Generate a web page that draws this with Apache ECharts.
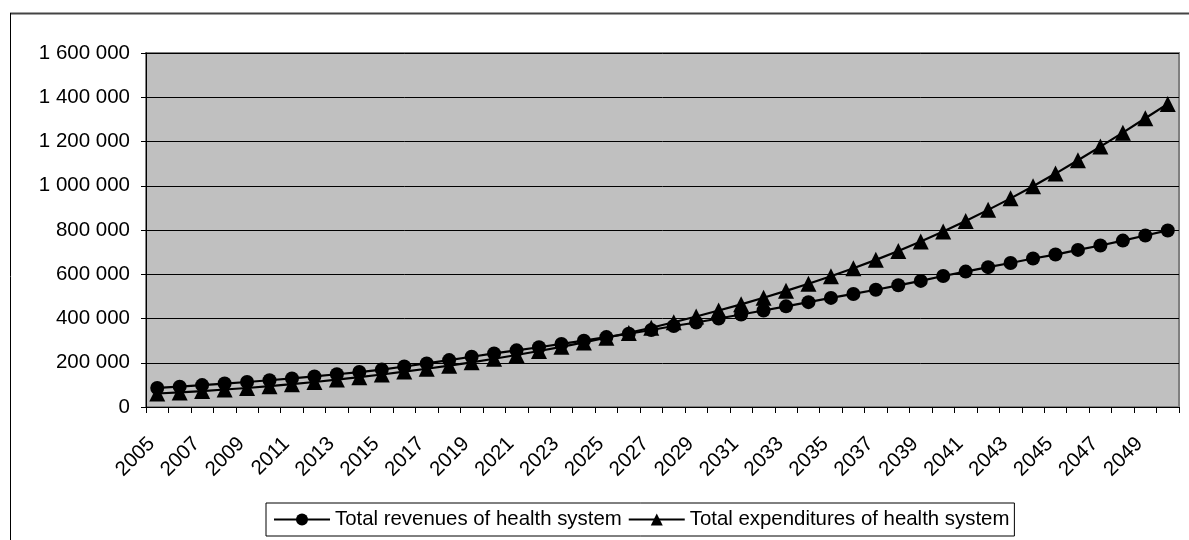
<!DOCTYPE html>
<html>
<head>
<meta charset="utf-8">
<script src="https://cdn.jsdelivr.net/npm/echarts@6/dist/echarts.min.js"></script>
<style>
html,body{margin:0;padding:0;background:#fff;}
#chart{width:1189px;height:540px;}
</style>
</head>
<body>
<div id="chart"></div>
<script>
const years = ["2005","2006","2007","2008","2009","2010","2011","2012","2013","2014",
  "2015","2016","2017","2018","2019","2020","2021","2022","2023","2024",
  "2025","2026","2027","2028","2029","2030","2031","2032","2033","2034",
  "2035","2036","2037","2038","2039","2040","2041","2042","2043","2044",
  "2045","2046","2047","2048","2049","2050"];

const revenues = [86000,92000,99000,106000,113000,121000,129000,138000,148000,158000,
  169000,183000,197000,212000,227000,242000,256000,270000,285000,300000,
  316000,331000,348000,366000,382000,400000,418000,436000,455000,474000,
  493000,511000,530000,550000,570000,592000,612000,632000,651000,671000,
  689000,710000,730000,752000,775000,798000];

const expenditures = [61000,66000,72000,79000,86000,94000,103000,113000,124000,135000,
  147000,160000,173000,187000,202000,218000,235000,253000,272000,292000,
  313000,335000,358000,383000,409000,436000,464000,494000,525000,557000,
  591000,627000,665000,705000,748000,793000,841000,891000,943000,998000,
  1055000,1115000,1177000,1240000,1305000,1370000];

const seriesNames = ["Total revenues of health system", "Total expenditures of health system"];

const yMin = 0, yMax = 1600000, yStep = 200000;

function fmt(v){
  return String(v).replace(/\B(?=(\d{3})+(?!\d))/g, " ");
}

const FONT = "Arial, 'Liberation Sans', sans-serif";
const chart = echarts.init(document.getElementById('chart'), null, {renderer:'canvas'});
chart.setOption({
  animation:false,
  backgroundColor:'#ffffff',
  textStyle:{fontFamily:FONT},
  graphic:[
    {type:'line', shape:{x1:10, y1:13.5, x2:1189, y2:13.5}, style:{stroke:'#444', lineWidth:2}, silent:true},
    {type:'line', shape:{x1:10.5, y1:13, x2:10.5, y2:540}, style:{stroke:'#000', lineWidth:1}, silent:true}
  ],
  grid:{left:146, right:10, top:53, bottom:133, show:true, backgroundColor:'#C0C0C0', borderColor:'#808080', borderWidth:2},
  legend:{
    left:266, top:503,
    data:seriesNames,
    itemWidth:56, itemHeight:15, itemGap:6,
    padding:[5,5,5,7],
    borderColor:'#000', borderWidth:1,
    textStyle:{fontSize:20.4, color:'#000', fontFamily:FONT, lineHeight:23}
  },
  xAxis:{
    type:'category', data:years, boundaryGap:true,
    axisLine:{lineStyle:{color:'#000', width:1}},
    axisTick:{show:true, interval:0, length:6, lineStyle:{color:'#000'}},
    axisLabel:{interval:1, rotate:45, fontSize:20.5, color:'#000', margin:28, padding:[0,8,0,0], fontFamily:FONT},
    splitLine:{show:false}
  },
  yAxis:{
    type:'value', min:yMin, max:yMax, interval:yStep,
    axisLine:{show:true, lineStyle:{color:'#000', width:1}},
    axisTick:{show:true, length:5, lineStyle:{color:'#000'}},
    axisLabel:{fontSize:20.5, color:'#000', margin:16, formatter:fmt, fontFamily:FONT},
    splitLine:{show:true, lineStyle:{color:'#000', width:1}}
  },
  series:[
    {name:seriesNames[0], type:'line', data:revenues, symbol:'circle', symbolSize:14, showAllSymbol:true,
     lineStyle:{color:'#000', width:2.2}, itemStyle:{color:'#000'}},
    {name:seriesNames[1], type:'line', data:expenditures, symbol:'triangle', symbolSize:16, showAllSymbol:true,
     lineStyle:{color:'#000', width:2.2}, itemStyle:{color:'#000'}}
  ]
});
</script>
</body>
</html>
